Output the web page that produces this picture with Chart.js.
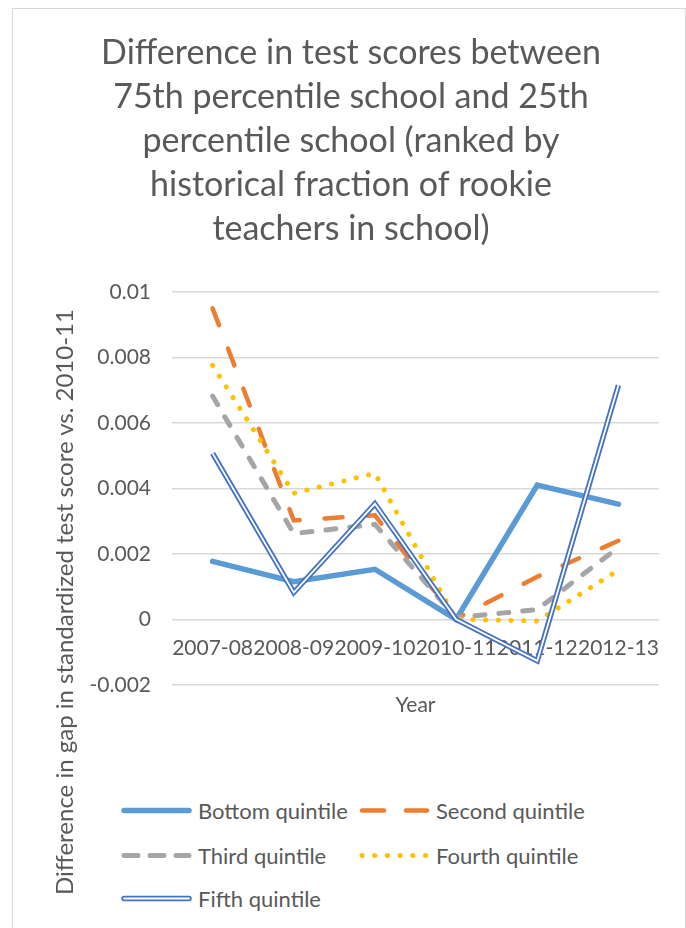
<!DOCTYPE html>
<html>
<head>
<meta charset="utf-8">
<script src="https://cdn.jsdelivr.net/npm/chart.js@4.4.1/dist/chart.umd.min.js"></script>
<style>
  html, body { margin: 0; padding: 0; background: #fff; }
  body { width: 686px; height: 928px; position: relative; overflow: hidden; font-family: Lato, sans-serif; color: #595959; }
  #frame { position: absolute; left: 12px; top: 8px; width: 674px; height: 940px; border: 1px solid #d9d9d9; box-sizing: border-box; }
  #chartBox { position: absolute; left: 13px; top: 9px; width: 671px; height: 713px; }
  /* rotated axis title, centred on (64, 602) */
  #yTitle { position: absolute; left: -286px; top: 588px; width: 700px; height: 28px; line-height: 28px; text-align: center;
            transform: rotate(-90deg); transform-origin: 50% 50%; white-space: nowrap; font-size: 24px; }
  .legend-item { position: absolute; display: flex; align-items: center; font-size: 22px; white-space: nowrap; transform: translateY(-50%); }
  .legend-item svg { margin-right: 6px; flex: none; }
</style>
</head>
<body>
<div id="frame"></div>
<div id="chartBox"><canvas id="chart"></canvas></div>
<div id="yTitle">Difference in gap in standardized test score vs. 2010-11</div>
<div id="legend"></div>

<script>
// values
const years = ['2007-08', '2008-09', '2009-10', '2010-11', '2011-12', '2012-13'];
const bottomQuintile = [0.00177, 0.00115, 0.00153, 0, 0.0041, 0.00352];
const secondQuintile = [0.0095, 0.00302, 0.00318, 0.00002, 0.0013, 0.0024];
const thirdQuintile  = [0.00682, 0.00262, 0.0029, 0.00005, 0.0003, 0.0022];
const fourthQuintile = [0.00776, 0.00385, 0.00446, 0, -0.00005, 0.0015];
const fifthQuintile  = [0.00507, 0.00082, 0.00353, 0, -0.00127, 0.00715];
const seriesNames = ['Bottom quintile', 'Second quintile', 'Third quintile', 'Fourth quintile', 'Fifth quintile'];
const titleLines = [
  'Difference in test scores between',
  '75th percentile school and 25th',
  'percentile school (ranked by',
  'historical fraction of rookie',
  'teachers in school)',
];

const TEXT = '#595959';
const GRID = '#d9d9d9';
const FONT = 'Lato';

// per-series line looks (Excel office palette)
const STYLES = [
  { color: '#5B9BD5', width: 5.5, dash: [], cap: 'round', svgDash: '' },
  { color: '#ED7D31', width: 4.5, dash: [18, 25], cap: 'round', svgDash: '22 22' },
  { color: '#A5A5A5', width: 5, dash: [10, 14], cap: 'round', svgDash: '14 12' },
  { color: '#FFC000', width: 5, dash: [0.1, 12.6], cap: 'round', svgDash: '0.1 12.6' },
  { color: '#4472C4', width: 5.5, dash: [], cap: 'butt', svgDash: '', double: true },
];

const seriesData = [bottomQuintile, secondQuintile, thirdQuintile, fourthQuintile, fifthQuintile];

const datasets = [];
seriesData.forEach((values, i) => {
  const s = STYLES[i];
  datasets.push({
    label: seriesNames[i],
    data: values,
    borderColor: s.color,
    borderWidth: s.width,
    borderDash: s.dash,
    borderCapStyle: s.cap,
    borderJoinStyle: 'miter',
    pointRadius: 0,
    fill: false,
    tension: 0,
    order: (seriesData.length - i) * 2,   // later series drawn on top, like Excel
  });
  if (s.double) {
    // white core over the blue stroke gives the double line
    datasets.push({
      label: '_core',
      data: values,
      borderColor: '#ffffff',
      borderWidth: 1.8,
      pointRadius: 0,
      fill: false,
      tension: 0,
      order: (seriesData.length - i) * 2 - 1,
    });
  }
});

new Chart(document.getElementById('chart'), {
  type: 'line',
  data: { labels: years, datasets },
  options: {
    responsive: true,
    maintainAspectRatio: false,
    animation: false,
    layout: { padding: { left: 30, right: 25, top: 0, bottom: 0 } },
    plugins: {
      legend: { display: false },
      tooltip: { enabled: false },
      title: {
        display: true,
        text: titleLines,
        color: TEXT,
        font: { family: FONT, size: 34, weight: 'normal', lineHeight: 44 / 34 },
        padding: { top: 22, bottom: 41 },
      },
    },
    scales: {
      x: {
        type: 'category',
        position: { y: 0 },
        offset: true,
        grid: { display: false, drawTicks: false },
        border: { display: false },
        ticks: { color: TEXT, font: { family: FONT, size: 21 }, autoSkip: false, maxRotation: 0, minRotation: 0, padding: 16 },
      },
      x2: {
        type: 'category',
        position: 'bottom',
        offset: true,
        grid: { display: false, drawTicks: false },
        border: { display: false },
        ticks: { display: false },
        title: { display: true, text: 'Year', color: TEXT, font: { family: FONT, size: 21 }, padding: { top: 8, bottom: 4 } },
      },
      y: {
        min: -0.002,
        max: 0.01,
        afterFit: (scale) => { scale.width = 129; },
        grid: { color: GRID, lineWidth: 1.5, drawTicks: false },
        border: { display: false },
        ticks: {
          stepSize: 0.002,
          color: TEXT,
          padding: 21,
          font: { family: FONT, size: 21 },
          callback: (v) => String(Number(v.toFixed(4))),
        },
      },
    },
  },
});

// legend: two columns, Excel style, swatches drawn with the same strokes
const LEGEND_COLS = [121, 359];
const LEGEND_ROWS = [810, 855, 898];
const legendEl = document.getElementById('legend');
seriesNames.forEach((name, i) => {
  const s = STYLES[i];
  const item = document.createElement('div');
  item.className = 'legend-item';
  item.style.left = LEGEND_COLS[i % 2] + 'px';
  item.style.top = LEGEND_ROWS[Math.floor(i / 2)] + 'px';
  const ns = 'http://www.w3.org/2000/svg';
  const svg = document.createElementNS(ns, 'svg');
  svg.setAttribute('width', 71);
  svg.setAttribute('height', 14);
  const mk = (color, w, dash, cap, x1, x2) => {
    const ln = document.createElementNS(ns, 'line');
    ln.setAttribute('x1', x1); ln.setAttribute('x2', x2);
    ln.setAttribute('y1', 7); ln.setAttribute('y2', 7);
    ln.setAttribute('stroke', color);
    ln.setAttribute('stroke-width', w);
    ln.setAttribute('stroke-linecap', cap);
    if (dash) ln.setAttribute('stroke-dasharray', dash);
    svg.appendChild(ln);
  };
  if (s.double) {
    mk(s.color, s.width, '', 'round', 3, 68);
    mk('#ffffff', 1.8, '', 'round', 3, 68);
  } else {
    mk(s.color, s.width, s.svgDash, s.cap, 3, 68);
  }
  item.appendChild(svg);
  const label = document.createElement('span');
  label.textContent = name;
  item.appendChild(label);
  legendEl.appendChild(item);
});
</script>
</body>
</html>
